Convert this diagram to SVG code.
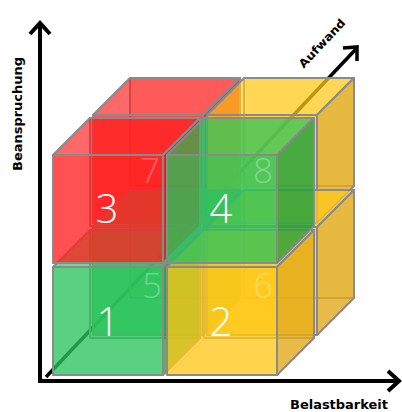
<svg xmlns="http://www.w3.org/2000/svg" width="402" height="412" viewBox="0 0 402 412">
<defs>
<style>
.e{stroke:#8a8a8a;stroke-width:2;stroke-linejoin:round}
.g{fill:#2cc45c}
.r{fill:#ff2020}
.y{fill:#ffc81a}
.gs{fill:#24a040}
.rs{fill:#e01818}
.ys{fill:#e2aa1c}
.bk{fill-opacity:.2}
.fr{fill-opacity:.78}
.tp{fill-opacity:.68}
.sd{fill-opacity:.8}
.num{font-family:"Open Sans","DejaVu Sans",sans-serif;font-weight:300;fill:#fff;text-anchor:middle}
.big{font-size:40px}
.ghost{font-size:35px;fill-opacity:.3}
.ax{stroke:#000;stroke-width:4;fill:none;stroke-linecap:butt}
.lbl{font-family:"DejaVu Sans",sans-serif;font-weight:bold;font-size:11.5px;fill:#000}
</style>
</defs>
<rect width="402" height="412" fill="#fff"/>
<g id="connectors">
<line class="ax" x1="46" y1="377" x2="356" y2="49" style="stroke-width:3.5"/>
<polyline class="ax" points="343,48 357,47 357,61" style="stroke-width:3.5"/>
<line class="ax" x1="40" y1="381" x2="40" y2="24"/>
<polyline class="ax" points="30,34 40,23 50,34"/>
<line class="ax" x1="38" y1="381" x2="398" y2="381"/>
<polyline class="ax" points="388,371 399,381 388,391"/>
</g>
<g id="cube7">
<rect class="r bk e" x="130" y="78" width="110" height="108"/>
<rect class="r fr e" x="93" y="115" width="110" height="108"/>
<polygon class="r tp e" points="93,115 203,115 240,78 130,78"/>
<polygon class="rs sd e" points="203,115 240,78 240,186 203,223"/>
</g>
<g id="cube8">
<rect class="y bk e" x="244" y="78" width="110" height="108"/>
<rect class="y fr e" x="207" y="115" width="110" height="108"/>
<polygon class="y tp e" points="207,115 317,115 354,78 244,78"/>
<polygon class="ys sd e" points="317,115 354,78 354,186 317,223"/>
</g>
<g id="cube5">
<rect class="g bk e" x="130" y="190" width="110" height="108"/>
<rect class="g fr e" x="93" y="227" width="110" height="108"/>
<polygon class="g tp e" points="93,227 203,227 240,190 130,190"/>
<polygon class="gs sd e" points="203,227 240,190 240,298 203,335"/>
</g>
<g id="cube6">
<rect class="y bk e" x="244" y="190" width="110" height="108"/>
<rect class="y fr e" x="207" y="227" width="110" height="108"/>
<polygon class="y tp e" points="207,227 317,227 354,190 244,190"/>
<polygon class="ys sd e" points="317,227 354,190 354,298 317,335"/>
</g>
<g id="cube1">
<rect class="g bk e" x="90" y="230" width="110" height="108"/>
<rect class="g fr e" x="53" y="267" width="110" height="108"/>
<polygon class="g tp e" points="53,267 163,267 200,230 90,230"/>
<polygon class="gs sd e" points="163,267 200,230 200,338 163,375"/>
</g>
<g id="cube2">
<rect class="y bk e" x="204" y="230" width="110" height="108"/>
<rect class="y fr e" x="167" y="267" width="110" height="108"/>
<polygon class="y tp e" points="167,267 277,267 314,230 204,230"/>
<polygon class="ys sd e" points="277,267 314,230 314,338 277,375"/>
</g>
<g id="cube3">
<rect class="r bk e" x="90" y="118" width="110" height="108"/>
<rect class="r fr e" x="53" y="155" width="110" height="108"/>
<polygon class="r tp e" points="53,155 163,155 200,118 90,118"/>
<polygon class="rs sd e" points="163,155 200,118 200,226 163,263"/>
</g>
<g id="cube4">
<rect class="g bk e" x="204" y="118" width="110" height="108"/>
<rect class="g fr e" x="167" y="155" width="110" height="108"/>
<polygon class="g tp e" points="167,155 277,155 314,118 204,118"/>
<polygon class="gs sd e" points="277,155 314,118 314,226 277,263"/>
</g>
<g id="labels">
<text class="num ghost" x="152" y="298">5</text>
<text class="num ghost" x="263" y="298">6</text>
<text class="num ghost" x="150" y="183">7</text>
<text class="num ghost" x="263" y="183">8</text>
<text class="num big" x="108" y="336">1</text>
<text class="num big" x="221" y="336">2</text>
<text class="num big" x="107" y="223">3</text>
<text class="num big" x="221" y="223">4</text>
<text class="lbl" x="339" y="409" text-anchor="middle" textLength="98" lengthAdjust="spacingAndGlyphs">Belastbarkeit</text>
<text class="lbl" transform="translate(22,114) rotate(-90)" text-anchor="middle" textLength="114" lengthAdjust="spacingAndGlyphs">Beanspruchung</text>
<text class="lbl" transform="translate(325,46) rotate(-47)" text-anchor="middle" textLength="62" lengthAdjust="spacingAndGlyphs">Aufwand</text>
</g>
</svg>
